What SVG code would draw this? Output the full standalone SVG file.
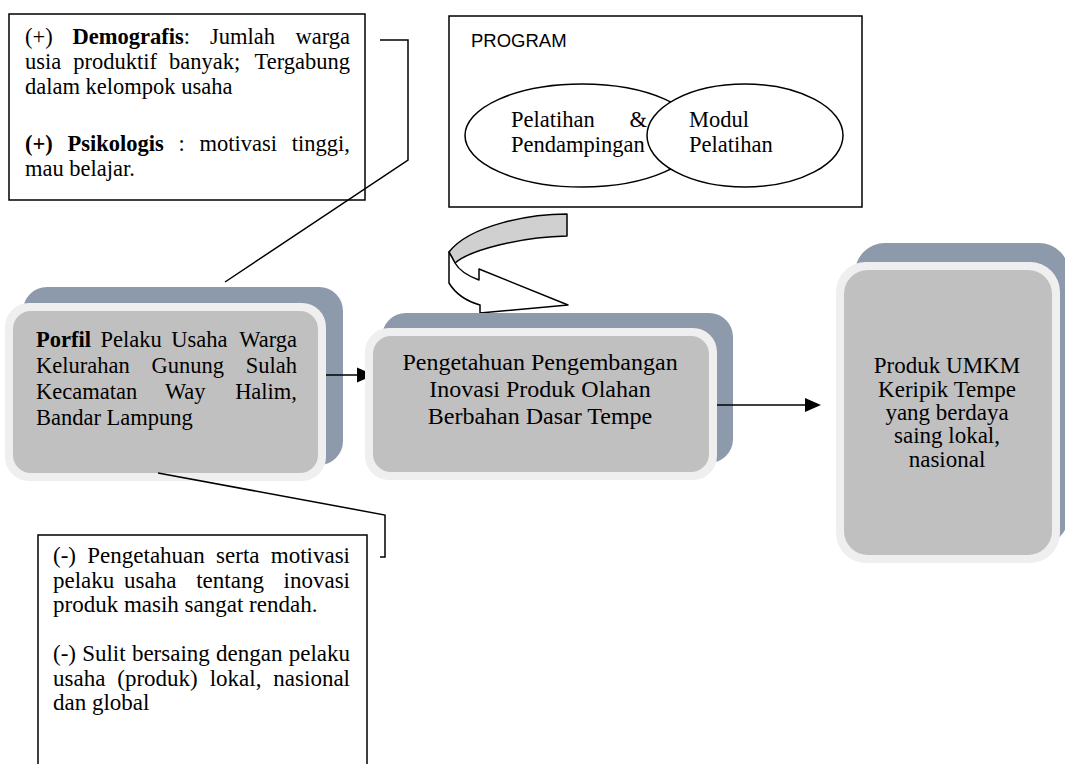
<svg xmlns="http://www.w3.org/2000/svg" width="1065" height="764" viewBox="0 0 1065 764">
<style>
.t{font-family:"Liberation Serif","Times New Roman",serif;fill:#000}
.s{font-family:"Liberation Sans",Arial,sans-serif;fill:#000}
.b{font-weight:bold}
.box{fill:#fff;stroke:#000;stroke-width:1.5}
.shadow{fill:#8d9aac}
.rim{fill:#efefef}
.core{fill:#c0c0c0}
.ln{fill:none;stroke:#000;stroke-width:1.5}
.ah{fill:#000}
</style>
<rect width="1065" height="764" fill="#fff"/>

<g id="demografis">
<rect class="box" x="9" y="14" width="356" height="186"/>
<g class="t" font-size="22.5">
<text x="25" y="44">(+)</text>
<text x="72.6" y="44"><tspan class="b">Demografis</tspan>:</text>
<text x="210" y="44">Jumlah</text>
<text x="350" y="44" text-anchor="end">warga</text>
<text x="25" y="69">usia</text>
<text x="73.3" y="69">produktif</text>
<text x="169.1" y="69">banyak;</text>
<text x="350" y="69" text-anchor="end">Tergabung</text>
<text x="25" y="94">dalam kelompok usaha</text>
<text x="25" y="151" class="b">(+)</text>
<text x="67.5" y="151" class="b">Psikologis</text>
<text x="178.6" y="151">:</text>
<text x="199.6" y="151">motivasi</text>
<text x="350" y="151" text-anchor="end">tinggi,</text>
<text x="25" y="176">mau belajar.</text>
</g>
</g>

<g id="program">
<rect class="box" x="449" y="16" width="413" height="191"/>
<text class="s" x="471" y="47" font-size="18.5">PROGRAM</text>
<ellipse cx="582" cy="135.5" rx="117" ry="51.5" fill="#fff" stroke="#000" stroke-width="1.5"/>
<g class="t" font-size="22.5">
<text x="511" y="127">Pelatihan</text>
<text x="647" y="127" text-anchor="end">&amp;</text>
<text x="511" y="152">Pendampingan</text>
</g>
<ellipse cx="745" cy="135.5" rx="98" ry="51.5" fill="#fff" stroke="#000" stroke-width="1.5"/>
<g class="t" font-size="22.5">
<text x="689" y="127">Modul</text>
<text x="689" y="152">Pelatihan</text>
</g>
</g>

<g id="curved-arrow">
<path d="M567,214 C530,214 470,225 449,252 L455,263 C470,250 520,237 567,236 Z" fill="#d0d0d0" stroke="#000" stroke-width="1.5" stroke-linejoin="round"/>
<path d="M449,252 L449,283 C455,293 466,301 480,305 L480,313 L568,305 L479,269 L479,280 C468,276 459,270 455,263 Z" fill="#fff" stroke="#000" stroke-width="1.5" stroke-linejoin="round"/>
</g>

<g id="profil">
<rect class="shadow" x="23" y="287" width="320" height="178" rx="24"/>
<rect class="rim" x="5" y="303" width="321" height="178" rx="24"/>
<rect class="core" x="13" y="311" width="305" height="162" rx="18"/>
<g class="t" font-size="22.5">
<text x="36" y="347" class="b">Porfil</text>
<text x="100.5" y="347">Pelaku</text>
<text x="171.3" y="347">Usaha</text>
<text x="297" y="347" text-anchor="end">Warga</text>
<text x="36" y="373">Kelurahan</text>
<text x="151.5" y="373">Gunung</text>
<text x="297" y="373" text-anchor="end">Sulah</text>
<text x="36" y="399">Kecamatan</text>
<text x="164.9" y="399">Way</text>
<text x="297" y="399" text-anchor="end">Halim,</text>
<text x="36" y="425">Bandar Lampung</text>
</g>
</g>

<g id="pengetahuan">
<rect class="shadow" x="382" y="313" width="351" height="150" rx="24"/>
<rect class="rim" x="365" y="328" width="352" height="152" rx="24"/>
<rect class="core" x="373" y="336" width="336" height="136" rx="18"/>
<g class="t" font-size="24" text-anchor="middle">
<text x="540" y="370">Pengetahuan Pengembangan</text>
<text x="540" y="397">Inovasi Produk Olahan</text>
<text x="540" y="424">Berbahan Dasar Tempe</text>
</g>
</g>

<g id="produk">
<rect class="shadow" x="855" y="243" width="214" height="302" rx="30"/>
<rect class="rim" x="836" y="262" width="224" height="301" rx="30"/>
<rect class="core" x="844" y="270" width="208" height="285" rx="24"/>
<g class="t" font-size="23" text-anchor="middle">
<text x="947" y="373">Produk UMKM</text>
<text x="947" y="397">Keripik Tempe</text>
<text x="947" y="420">yang berdaya</text>
<text x="947" y="443">saing lokal,</text>
<text x="947" y="467">nasional</text>
</g>
</g>

<g id="hambatan">
<rect class="box" x="38" y="535" width="329" height="240"/>
<g class="t" font-size="23">
<text x="53" y="563">(-)</text>
<text x="87.3" y="563">Pengetahuan</text>
<text x="216.1" y="563">serta</text>
<text x="350" y="563" text-anchor="end">motivasi</text>
<text x="53" y="588">pelaku</text>
<text x="124.1" y="588">usaha</text>
<text x="196.2" y="588">tentang</text>
<text x="350" y="588" text-anchor="end">inovasi</text>
<text x="53" y="612">produk masih sangat rendah.</text>
<text x="53" y="661">(-)</text>
<text x="82.2" y="661">Sulit</text>
<text x="131.9" y="661">bersaing</text>
<text x="216" y="661">dengan</text>
<text x="350" y="661" text-anchor="end">pelaku</text>
<text x="53" y="686">usaha</text>
<text x="117.3" y="686">(produk)</text>
<text x="209.7" y="686">lokal,</text>
<text x="350" y="686" text-anchor="end">nasional</text>
<text x="53" y="710">dan global</text>
</g>
</g>

<g id="connectors">
<path class="ln" d="M380,40 L408,40 L408,160 L225,282"/>
<path class="ln" d="M158,473 L385,515 L385,557 L380,557"/>
<line class="ln" x1="326" y1="375" x2="358" y2="375"/>
<polygon class="ah" points="357,367.5 365,371 365,379 357,382.5"/>
<line class="ln" x1="717" y1="405" x2="806" y2="405"/>
<polygon class="ah" points="805,398 821,405 805,412"/>
</g>
</svg>
